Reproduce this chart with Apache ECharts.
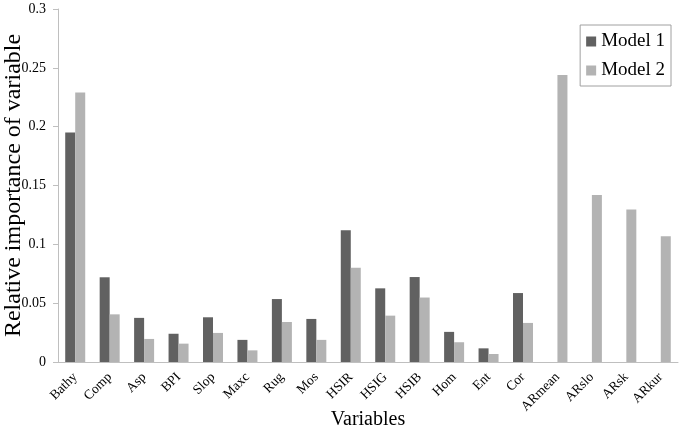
<!DOCTYPE html>
<html>
<head>
<meta charset="utf-8">
<script src="https://cdn.jsdelivr.net/npm/echarts@6/dist/echarts.min.js"></script>
<style>html,body{margin:0;padding:0;background:#fff;}#c{width:682px;height:429px;}</style>
</head>
<body>
<div id="c"></div>
<script>
var categories = ['Bathy','Comp','Asp','BPI','Slop','Maxc','Rug','Mos','HSIR','HSIG','HSIB','Hom','Ent','Cor','ARmean','ARslo','ARsk','ARkur'];
var model1 = [0.195,0.072,0.0375,0.024,0.038,0.0188,0.0535,0.0366,0.112,0.0626,0.0722,0.0256,0.0116,0.0586,0,0,0,0];
var model2 = [0.229,0.0405,0.0196,0.0156,0.0247,0.0099,0.034,0.0188,0.08,0.0394,0.0548,0.0168,0.0068,0.0332,0.244,0.142,0.1295,0.1068];
var yTicks = [0,0.05,0.1,0.15,0.2,0.25,0.3];
var seriesNames = ['Model 1','Model 2'];

var FONT = '"Liberation Serif", "DejaVu Serif", serif';
var chart = echarts.init(document.getElementById('c'), null, {renderer:'canvas'});
chart.setOption({
  animation:false,
  backgroundColor:'#fff',
  grid:{left:58, right:4, top:9, bottom:67, containLabel:false, outerBoundsMode:'none'},
  legend:{
    orient:'vertical', right:11, top:25, itemWidth:10, itemHeight:10, itemGap:10,
    padding:[7,6,6,6],
    borderColor:'#a0a0a0', borderWidth:1, backgroundColor:'#fff',
    textStyle:{fontFamily:FONT, fontSize:19, color:'#000'},
    data:seriesNames, icon:'rect'
  },
  xAxis:{
    type:'category', data:categories,
    name:'Variables', nameLocation:'middle', nameGap:48, nameMoveOverlap:false,
    nameTextStyle:{fontFamily:FONT, fontSize:20, color:'#000'},
    axisLine:{lineStyle:{color:'#bfbfbf', width:1}},
    axisTick:{show:false},
    axisLabel:{rotate:45, interval:0, margin:13, fontFamily:FONT, fontSize:13.5, color:'#000'}
  },
  yAxis:{
    type:'value', min:0, max:0.3, interval:0.05,
    name:'Relative importance of variable', nameLocation:'middle', nameGap:32, nameMoveOverlap:false,
    nameTextStyle:{fontFamily:FONT, fontSize:24, color:'#000'},
    axisLine:{show:true, lineStyle:{color:'#bfbfbf', width:1}},
    axisTick:{show:true, length:5, lineStyle:{color:'#bfbfbf'}},
    splitLine:{show:false},
    axisLabel:{margin:12, fontFamily:FONT, fontSize:14, color:'#000',
      formatter:function(v){ var i = yTicks.indexOf(Math.round(v*100)/100); return i>=0 ? String(yTicks[i]) : ''; }}
  },
  series:[
    {name:seriesNames[0], type:'bar', data:model1, barWidth:10, barGap:'0%', itemStyle:{color:'#616161'}},
    {name:seriesNames[1], type:'bar', data:model2, barWidth:10, barGap:'0%', itemStyle:{color:'#b3b3b3'}}
  ]
});
</script>
</body>
</html>
